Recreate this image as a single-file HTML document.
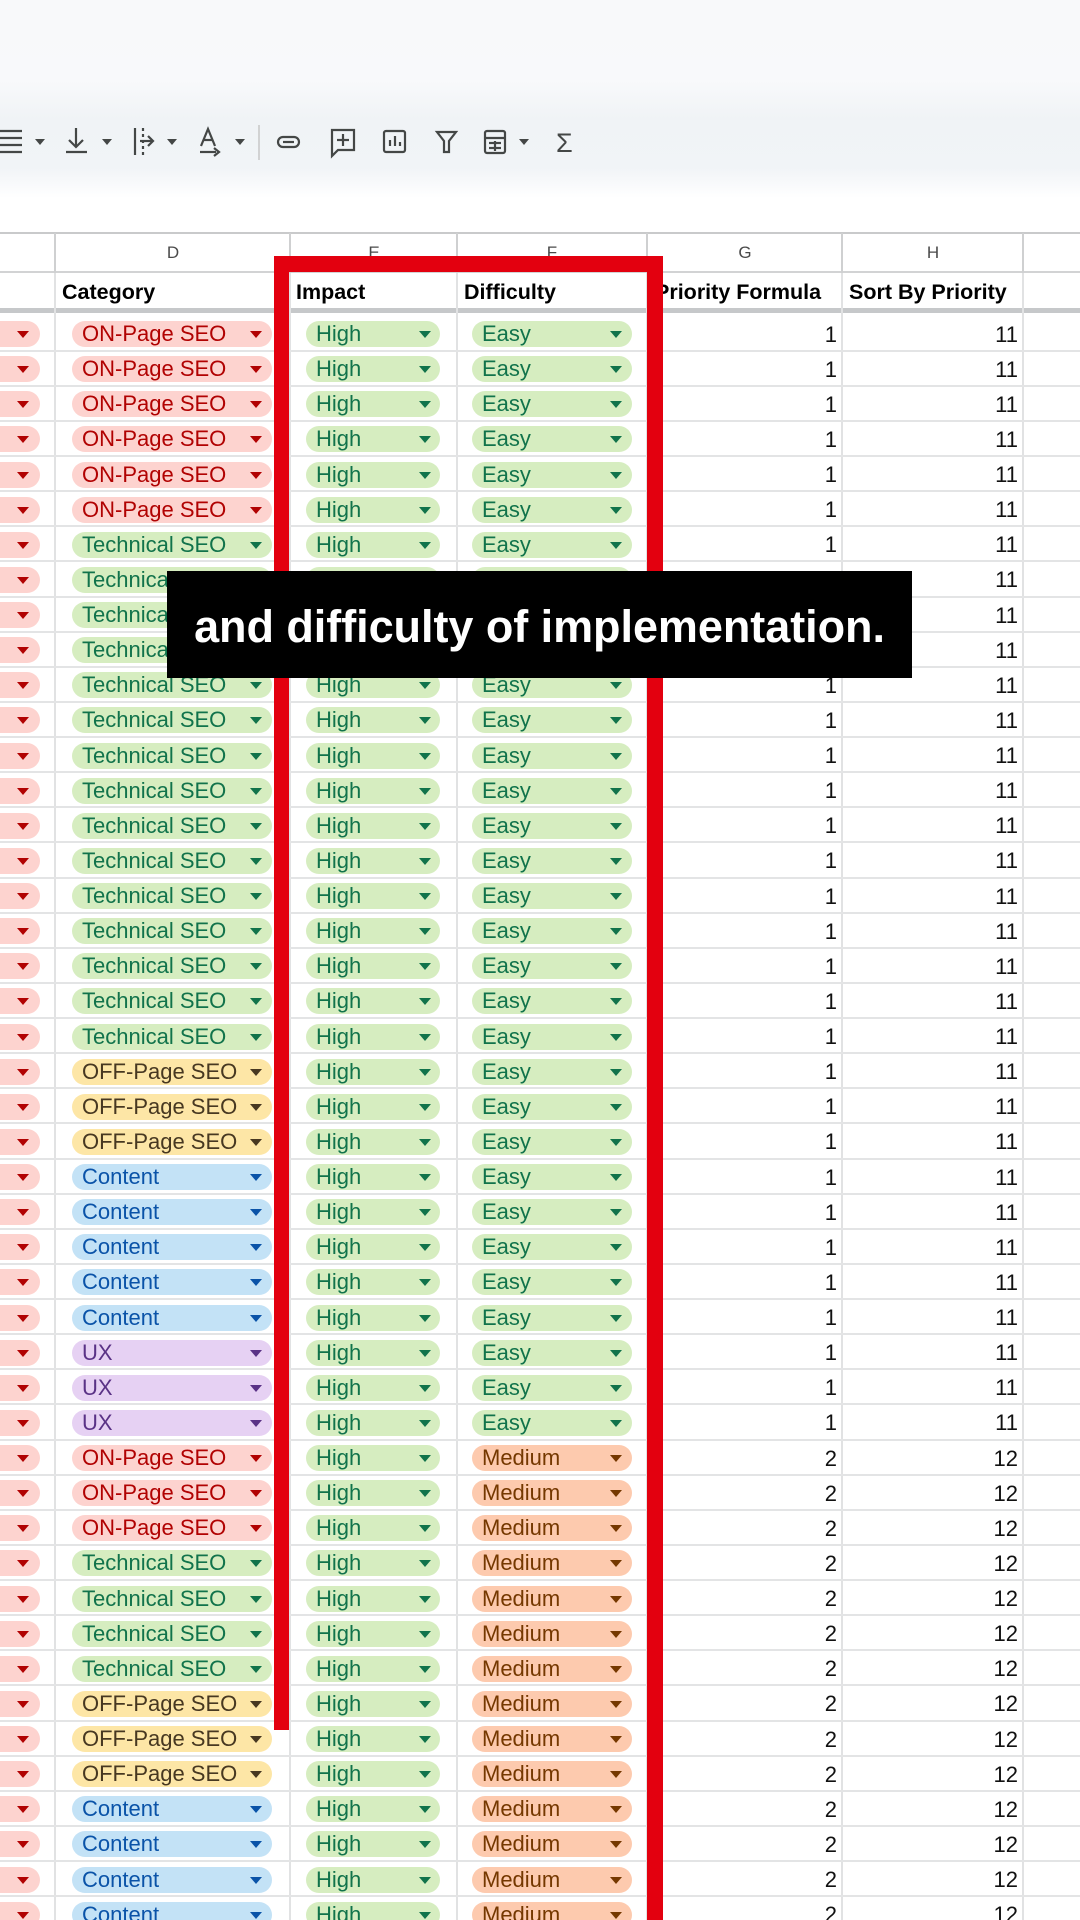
<!DOCTYPE html>
<html><head><meta charset="utf-8">
<style>
*{margin:0;padding:0;box-sizing:border-box}
html,body{width:1080px;height:1920px;overflow:hidden;background:#fff}
body{position:relative;font-family:"Liberation Sans",sans-serif}
#top{position:absolute;left:0;top:0;width:1080px;height:233px;background:linear-gradient(#f8f9fa 0px,#f8f9fb 80px,#f0f3f6 120px,#f1f4f7 168px,#ffffff 198px)}
#tb{position:absolute;left:0;top:110px}
#colhdr{position:absolute;left:0;top:232px;width:1080px;height:41px;border-top:2px solid #c9cacb;border-bottom:2px solid #d2d3d4;background:#fff}
.L{position:absolute;top:9px;font-size:17px;color:#4a4a4a;transform:translateX(-50%)}
#lab{position:absolute;left:0;top:273px;width:1080px;height:35px}
.H{position:absolute;top:7px;font-size:21.5px;font-weight:bold;color:#000;white-space:nowrap}
#thick{position:absolute;left:0;top:308px;width:1080px;height:5px;background:#c6c8ca}
.v{position:absolute;width:2px;background:#e1e2e3}
.vh{position:absolute;width:2px;background:#cfd0d1}
#rows{position:absolute;left:0;top:316.5px;width:1080px}
.r{position:relative;height:35.13px;border-bottom:2px solid #e3e4e5}
.p{position:absolute;top:4.5px;height:26px;border-radius:13px;font-size:22px;line-height:26px;padding-left:10px;white-space:nowrap}
.p::after{content:"";position:absolute;top:10px;right:10px;border-left:6px solid transparent;border-right:6px solid transparent;border-top:7px solid currentColor}
.c{left:-20px;width:60px}
.c::after{right:11px}
.d{left:72px;width:200px}
.d::after{right:10px}
.e{left:306px;width:134px}
.e::after{right:9px}
.f{left:472px;width:160px}
.on{background:#fdd3cf;color:#b10202}
.te{background:#d6edc0;color:#11734b}
.of{background:#fde6a6;color:#473821}
.co{background:#c3e2f6;color:#0a53a8}
.ux{background:#e6d1f3;color:#5a3286}
.md{background:#fdcaae;color:#753800}
.g{position:absolute;right:243px;top:5px;font-size:22px;line-height:26px;color:#111}
.h{position:absolute;right:62px;top:5px;font-size:22px;line-height:26px;color:#111}
.red{position:absolute;background:#e3000f}
#cap{position:absolute;left:167px;top:571px;width:745px;height:107px;background:#000;color:#fff;font-weight:bold;font-size:45px;line-height:107px;text-align:center;padding-top:2px;letter-spacing:-0.05px;white-space:nowrap}
</style></head><body>
<div id="top"></div>
<svg id="tb" width="600" height="60" viewBox="0 110 600 60" xmlns="http://www.w3.org/2000/svg" fill="none" stroke="#444746" stroke-width="2.2">
<g>
<line x1="0" y1="131" x2="22" y2="131"/><line x1="0" y1="138" x2="22" y2="138"/><line x1="0" y1="145" x2="22" y2="145"/><line x1="0" y1="152" x2="22" y2="152"/>
</g>
<g fill="#444746" stroke="none">
<polygon points="35,139 45,139 40,145"/>
<polygon points="102,139 112,139 107,145"/>
<polygon points="167,139 177,139 172,145"/>
<polygon points="235,139 245,139 240,145"/>
<polygon points="519,139 529,139 524,145"/>
</g>
<line x1="76" y1="128" x2="76" y2="146"/><polyline points="69,140 76,147 83,140"/><line x1="66" y1="152" x2="87" y2="152"/>
<line x1="135" y1="128" x2="135" y2="155"/><line x1="143" y1="128" x2="143" y2="155" stroke-dasharray="3 3"/><line x1="140" y1="141" x2="153" y2="141"/><polyline points="148,136 153,141 148,146"/>
<polyline points="201,146 208,129 215,146"/><line x1="204" y1="140" x2="212" y2="140"/><line x1="200" y1="152" x2="216" y2="152"/><polyline points="214,148 219,152 214,156"/>
<line x1="259" y1="125" x2="259" y2="160" stroke="#c7c7c7" stroke-width="1.5"/>
<rect x="278" y="137" width="21" height="10" rx="5"/><line x1="283" y1="142" x2="294" y2="142"/>
<path d="M332,130 H354 V150 H338 L332,156 Z"/><line x1="343" y1="134" x2="343" y2="146"/><line x1="337" y1="140" x2="349" y2="140"/>
<rect x="384" y="131" width="21" height="21" rx="2"/><line x1="390" y1="146" x2="390" y2="140"/><line x1="395" y1="146" x2="395" y2="136"/><line x1="400" y1="146" x2="400" y2="142"/>
<path d="M437,132 H456 L449,141 V152 H444 V141 Z"/>
<rect x="485" y="131" width="20" height="22" rx="2"/><line x1="485" y1="138" x2="505" y2="138"/><line x1="489" y1="143" x2="501" y2="143"/><line x1="489" y1="148" x2="501" y2="148"/><line x1="495" y1="141" x2="495" y2="151"/>
<text x="556" y="152" font-family="Liberation Sans" font-size="27" fill="#444746" stroke="none">Σ</text>
</svg>

<div id="colhdr">
<span class="L" style="left:173px">D</span>
<span class="L" style="left:374px">E</span>
<span class="L" style="left:552px">F</span>
<span class="L" style="left:745px">G</span>
<span class="L" style="left:933px">H</span>
</div>
<div class="vh" style="left:54px;top:233px;height:40px"></div>
<div class="vh" style="left:289px;top:233px;height:40px"></div>
<div class="vh" style="left:456px;top:233px;height:40px"></div>
<div class="vh" style="left:646px;top:233px;height:40px"></div>
<div class="vh" style="left:841px;top:233px;height:40px"></div>
<div class="vh" style="left:1022px;top:233px;height:40px"></div>

<div id="lab">
<span class="H" style="left:62px">Category</span>
<span class="H" style="left:296px">Impact</span>
<span class="H" style="left:464px">Difficulty</span>
<span class="H" style="left:655px">Priority Formula</span>
<span class="H" style="left:849px">Sort By Priority</span>
</div>
<div id="thick"></div>

<div class="v" style="left:54px;top:273px;height:1647px"></div>
<div class="v" style="left:289px;top:273px;height:1647px"></div>
<div class="v" style="left:456px;top:273px;height:1647px"></div>
<div class="v" style="left:646px;top:273px;height:1647px"></div>
<div class="v" style="left:841px;top:273px;height:1647px"></div>
<div class="v" style="left:1022px;top:273px;height:1647px"></div>

<div id="rows">
<div class="r"><span class="p c on"></span><span class="p d on">ON-Page SEO</span><span class="p e te">High</span><span class="p f te">Easy</span><span class="g">1</span><span class="h">11</span></div>
<div class="r"><span class="p c on"></span><span class="p d on">ON-Page SEO</span><span class="p e te">High</span><span class="p f te">Easy</span><span class="g">1</span><span class="h">11</span></div>
<div class="r"><span class="p c on"></span><span class="p d on">ON-Page SEO</span><span class="p e te">High</span><span class="p f te">Easy</span><span class="g">1</span><span class="h">11</span></div>
<div class="r"><span class="p c on"></span><span class="p d on">ON-Page SEO</span><span class="p e te">High</span><span class="p f te">Easy</span><span class="g">1</span><span class="h">11</span></div>
<div class="r"><span class="p c on"></span><span class="p d on">ON-Page SEO</span><span class="p e te">High</span><span class="p f te">Easy</span><span class="g">1</span><span class="h">11</span></div>
<div class="r"><span class="p c on"></span><span class="p d on">ON-Page SEO</span><span class="p e te">High</span><span class="p f te">Easy</span><span class="g">1</span><span class="h">11</span></div>
<div class="r"><span class="p c on"></span><span class="p d te">Technical SEO</span><span class="p e te">High</span><span class="p f te">Easy</span><span class="g">1</span><span class="h">11</span></div>
<div class="r"><span class="p c on"></span><span class="p d te">Technical SEO</span><span class="p e te">High</span><span class="p f te">Easy</span><span class="g">1</span><span class="h">11</span></div>
<div class="r"><span class="p c on"></span><span class="p d te">Technical SEO</span><span class="p e te">High</span><span class="p f te">Easy</span><span class="g">1</span><span class="h">11</span></div>
<div class="r"><span class="p c on"></span><span class="p d te">Technical SEO</span><span class="p e te">High</span><span class="p f te">Easy</span><span class="g">1</span><span class="h">11</span></div>
<div class="r"><span class="p c on"></span><span class="p d te">Technical SEO</span><span class="p e te">High</span><span class="p f te">Easy</span><span class="g">1</span><span class="h">11</span></div>
<div class="r"><span class="p c on"></span><span class="p d te">Technical SEO</span><span class="p e te">High</span><span class="p f te">Easy</span><span class="g">1</span><span class="h">11</span></div>
<div class="r"><span class="p c on"></span><span class="p d te">Technical SEO</span><span class="p e te">High</span><span class="p f te">Easy</span><span class="g">1</span><span class="h">11</span></div>
<div class="r"><span class="p c on"></span><span class="p d te">Technical SEO</span><span class="p e te">High</span><span class="p f te">Easy</span><span class="g">1</span><span class="h">11</span></div>
<div class="r"><span class="p c on"></span><span class="p d te">Technical SEO</span><span class="p e te">High</span><span class="p f te">Easy</span><span class="g">1</span><span class="h">11</span></div>
<div class="r"><span class="p c on"></span><span class="p d te">Technical SEO</span><span class="p e te">High</span><span class="p f te">Easy</span><span class="g">1</span><span class="h">11</span></div>
<div class="r"><span class="p c on"></span><span class="p d te">Technical SEO</span><span class="p e te">High</span><span class="p f te">Easy</span><span class="g">1</span><span class="h">11</span></div>
<div class="r"><span class="p c on"></span><span class="p d te">Technical SEO</span><span class="p e te">High</span><span class="p f te">Easy</span><span class="g">1</span><span class="h">11</span></div>
<div class="r"><span class="p c on"></span><span class="p d te">Technical SEO</span><span class="p e te">High</span><span class="p f te">Easy</span><span class="g">1</span><span class="h">11</span></div>
<div class="r"><span class="p c on"></span><span class="p d te">Technical SEO</span><span class="p e te">High</span><span class="p f te">Easy</span><span class="g">1</span><span class="h">11</span></div>
<div class="r"><span class="p c on"></span><span class="p d te">Technical SEO</span><span class="p e te">High</span><span class="p f te">Easy</span><span class="g">1</span><span class="h">11</span></div>
<div class="r"><span class="p c on"></span><span class="p d of">OFF-Page SEO</span><span class="p e te">High</span><span class="p f te">Easy</span><span class="g">1</span><span class="h">11</span></div>
<div class="r"><span class="p c on"></span><span class="p d of">OFF-Page SEO</span><span class="p e te">High</span><span class="p f te">Easy</span><span class="g">1</span><span class="h">11</span></div>
<div class="r"><span class="p c on"></span><span class="p d of">OFF-Page SEO</span><span class="p e te">High</span><span class="p f te">Easy</span><span class="g">1</span><span class="h">11</span></div>
<div class="r"><span class="p c on"></span><span class="p d co">Content</span><span class="p e te">High</span><span class="p f te">Easy</span><span class="g">1</span><span class="h">11</span></div>
<div class="r"><span class="p c on"></span><span class="p d co">Content</span><span class="p e te">High</span><span class="p f te">Easy</span><span class="g">1</span><span class="h">11</span></div>
<div class="r"><span class="p c on"></span><span class="p d co">Content</span><span class="p e te">High</span><span class="p f te">Easy</span><span class="g">1</span><span class="h">11</span></div>
<div class="r"><span class="p c on"></span><span class="p d co">Content</span><span class="p e te">High</span><span class="p f te">Easy</span><span class="g">1</span><span class="h">11</span></div>
<div class="r"><span class="p c on"></span><span class="p d co">Content</span><span class="p e te">High</span><span class="p f te">Easy</span><span class="g">1</span><span class="h">11</span></div>
<div class="r"><span class="p c on"></span><span class="p d ux">UX</span><span class="p e te">High</span><span class="p f te">Easy</span><span class="g">1</span><span class="h">11</span></div>
<div class="r"><span class="p c on"></span><span class="p d ux">UX</span><span class="p e te">High</span><span class="p f te">Easy</span><span class="g">1</span><span class="h">11</span></div>
<div class="r"><span class="p c on"></span><span class="p d ux">UX</span><span class="p e te">High</span><span class="p f te">Easy</span><span class="g">1</span><span class="h">11</span></div>
<div class="r"><span class="p c on"></span><span class="p d on">ON-Page SEO</span><span class="p e te">High</span><span class="p f md">Medium</span><span class="g">2</span><span class="h">12</span></div>
<div class="r"><span class="p c on"></span><span class="p d on">ON-Page SEO</span><span class="p e te">High</span><span class="p f md">Medium</span><span class="g">2</span><span class="h">12</span></div>
<div class="r"><span class="p c on"></span><span class="p d on">ON-Page SEO</span><span class="p e te">High</span><span class="p f md">Medium</span><span class="g">2</span><span class="h">12</span></div>
<div class="r"><span class="p c on"></span><span class="p d te">Technical SEO</span><span class="p e te">High</span><span class="p f md">Medium</span><span class="g">2</span><span class="h">12</span></div>
<div class="r"><span class="p c on"></span><span class="p d te">Technical SEO</span><span class="p e te">High</span><span class="p f md">Medium</span><span class="g">2</span><span class="h">12</span></div>
<div class="r"><span class="p c on"></span><span class="p d te">Technical SEO</span><span class="p e te">High</span><span class="p f md">Medium</span><span class="g">2</span><span class="h">12</span></div>
<div class="r"><span class="p c on"></span><span class="p d te">Technical SEO</span><span class="p e te">High</span><span class="p f md">Medium</span><span class="g">2</span><span class="h">12</span></div>
<div class="r"><span class="p c on"></span><span class="p d of">OFF-Page SEO</span><span class="p e te">High</span><span class="p f md">Medium</span><span class="g">2</span><span class="h">12</span></div>
<div class="r"><span class="p c on"></span><span class="p d of">OFF-Page SEO</span><span class="p e te">High</span><span class="p f md">Medium</span><span class="g">2</span><span class="h">12</span></div>
<div class="r"><span class="p c on"></span><span class="p d of">OFF-Page SEO</span><span class="p e te">High</span><span class="p f md">Medium</span><span class="g">2</span><span class="h">12</span></div>
<div class="r"><span class="p c on"></span><span class="p d co">Content</span><span class="p e te">High</span><span class="p f md">Medium</span><span class="g">2</span><span class="h">12</span></div>
<div class="r"><span class="p c on"></span><span class="p d co">Content</span><span class="p e te">High</span><span class="p f md">Medium</span><span class="g">2</span><span class="h">12</span></div>
<div class="r"><span class="p c on"></span><span class="p d co">Content</span><span class="p e te">High</span><span class="p f md">Medium</span><span class="g">2</span><span class="h">12</span></div>
<div class="r"><span class="p c on"></span><span class="p d co">Content</span><span class="p e te">High</span><span class="p f md">Medium</span><span class="g">2</span><span class="h">12</span></div>
</div>

<div class="red" style="left:274px;top:256px;width:389px;height:16px"></div>
<div class="red" style="left:274px;top:256px;width:15px;height:1474px"></div>
<div class="red" style="left:647px;top:256px;width:16px;height:1664px"></div>

<div id="cap">and difficulty of implementation.</div>
</body></html>
